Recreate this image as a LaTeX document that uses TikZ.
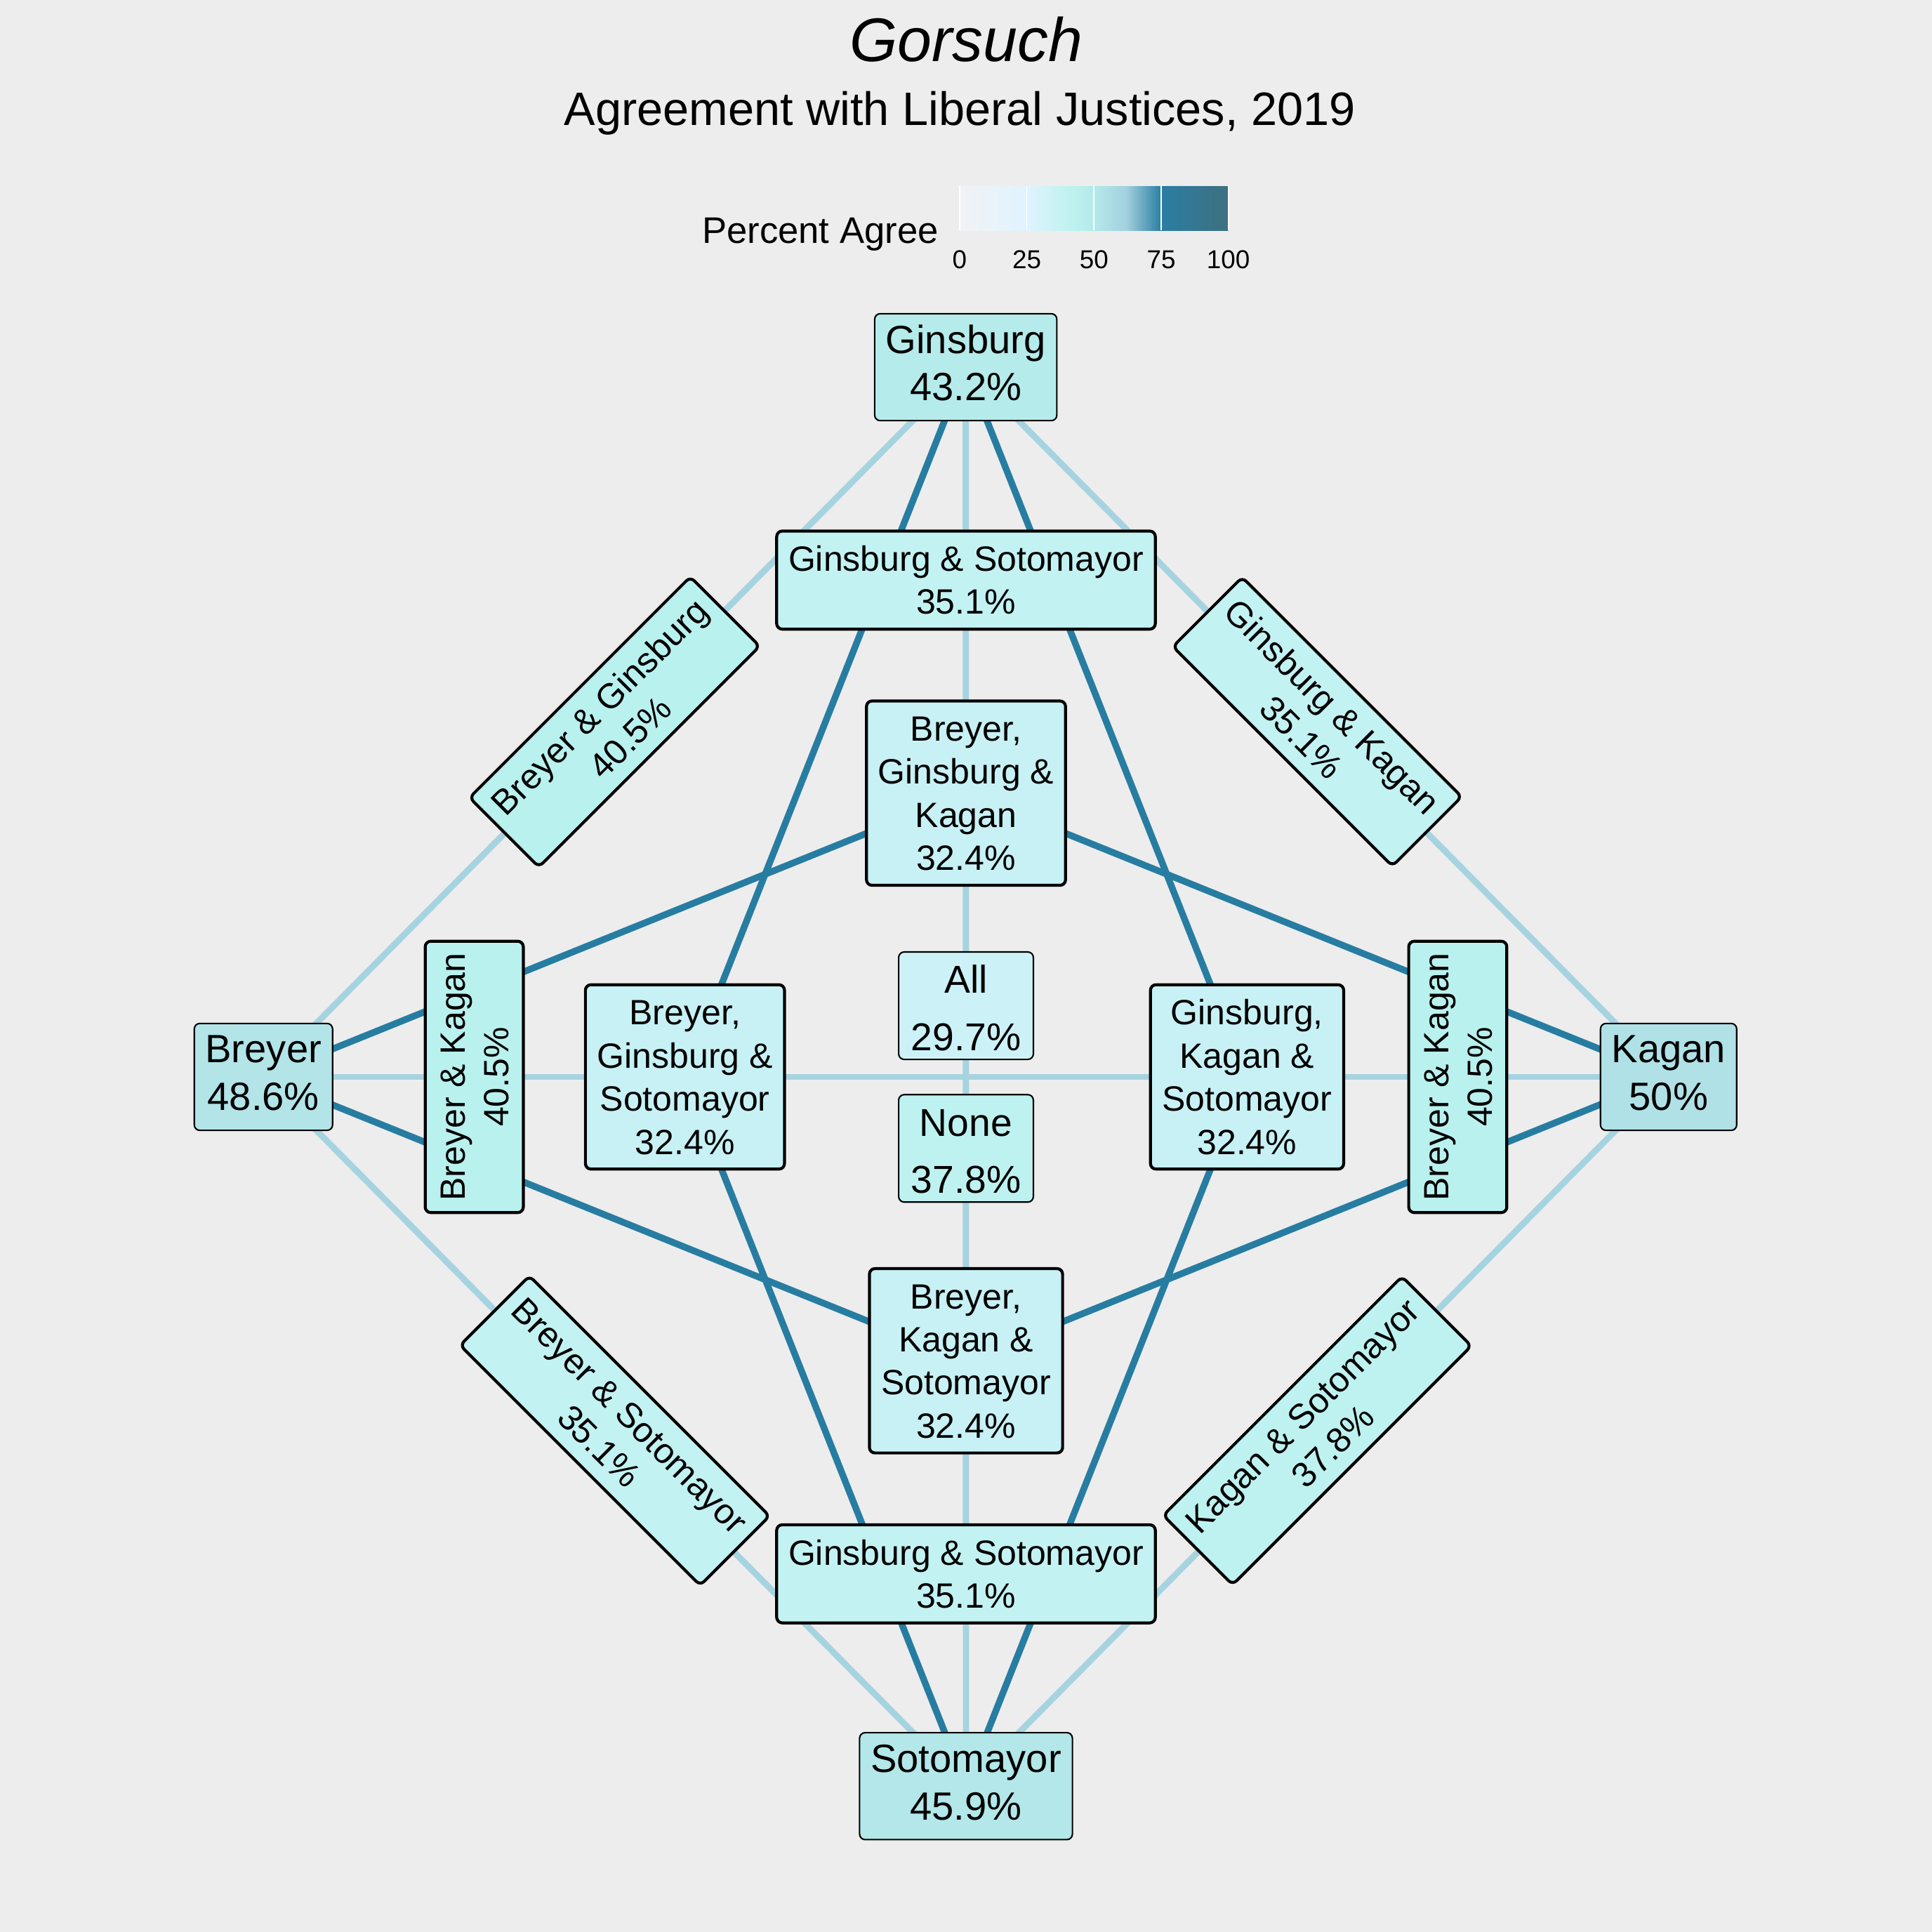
\documentclass[tikz,border=0pt]{standalone}
\usepackage{fontspec}
\setmainfont{Liberation Sans}
\usetikzlibrary{backgrounds}
\pgfdeclarelayer{edges}
\pgfsetlayers{background,edges,main}
\definecolor{bgc}{HTML}{EDEDED}
\definecolor{lite}{HTML}{A6D3E0}
\definecolor{dark}{HTML}{277DA1}
\definecolor{fG}{HTML}{B5EBEB}
\definecolor{fS}{HTML}{B3E7E9}
\definecolor{fB}{HTML}{B2E4E8}
\definecolor{fK}{HTML}{B0E1E7}
\definecolor{fa}{HTML}{B9F1EF}
\definecolor{fb}{HTML}{BEF2F1}
\definecolor{fc}{HTML}{C3F2F3}
\definecolor{fd}{HTML}{C7F1F5}
\definecolor{fe}{HTML}{CCF2F8}
\definecolor{ca}{HTML}{F1F2F4}
\definecolor{cb}{HTML}{E9F3FA}
\definecolor{cc}{HTML}{DFF3FE}
\definecolor{cd}{HTML}{BDF2EE}
\definecolor{ce}{HTML}{B4E9EA}
\definecolor{cf}{HTML}{A3D0DE}
\definecolor{cg}{HTML}{2A7EA3}
\definecolor{ch}{HTML}{3F7080}
\pgfdeclarehorizontalshading{agreebar}{100bp}{color(0bp)=(ca); color(25bp)=(ca); color(31bp)=(cb); color(37.5bp)=(cc); color(46bp)=(cd); color(50bp)=(ce); color(56bp)=(cf); color(62.5bp)=(cg); color(75bp)=(ch); color(100bp)=(ch)}
\newcommand\jtop{\rule{0pt}{32pt}}
\newcommand\jbot{\rule[-16.1pt]{0pt}{16.1pt}}
\newcommand\ctop{\rule{0pt}{32.5pt}}
\newcommand\cbot{\rule[-12.1pt]{0pt}{12.1pt}}
\newcommand\alltop{\rule{0pt}{33.5pt}}
\newcommand\allbot{\rule[-7.2pt]{0pt}{7.2pt}}
\tikzset{
  jbox/.style={draw=black, line width=1.2pt, rounded corners=4.5pt, inner xsep=9pt, inner ysep=0pt, align=center, font=\fontsize{32}{38.7}\selectfont},
  cbox/.style={draw=black, line width=2.4pt, rounded corners=4.5pt, inner xsep=9.5pt, inner ysep=0pt, align=center, font=\fontsize{28.5}{35}\selectfont},
  abox/.style={draw=black, line width=1.2pt, rounded corners=4.5pt, inner xsep=10pt, inner ysep=0pt, align=center, font=\fontsize{31.5}{46.5}\selectfont},
  liteline/.style={draw=lite, line width=5.1pt},
  darkline/.style={draw=dark, line width=5.4pt},
  plain/.style={inner sep=0pt, anchor=base}
}
\begin{document}
\begin{tikzpicture}[x=1pt,y=-1pt]
\useasboundingbox (0,0) rectangle (1568,1568);
\begin{pgfonlayer}{background}
\fill[bgc] (0,0) rectangle (1568,1568);
\end{pgfonlayer}

% titles
\node[plain, font=\fontsize{50}{60}\selectfont\itshape] (title) at (784,49.8) {Gorsuch};
\node[plain, font=\fontsize{38}{46}\selectfont] (subtitle) at (779,101.6) {Agreement with Liberal Justices, 2019};

% legend
\node[inner sep=0pt, anchor=base east, font=\fontsize{30}{36}\selectfont] (legtitle) at (761.8,197.7) {Percent Agree};
\shade[shading=agreebar] (778.8,151) rectangle (996.9,187);
\foreach \tx in {778.8,833.3,887.9,942.4,996.9}{
  \draw[white, line width=1pt] (\tx,151) -- (\tx,187);
}
\node[plain, font=\fontsize{21}{25}\selectfont] (t0) at (778.8,218) {0};
\node[plain, font=\fontsize{21}{25}\selectfont] (t25) at (833.3,218) {25};
\node[plain, font=\fontsize{21}{25}\selectfont] (t50) at (887.9,218) {50};
\node[plain, font=\fontsize{21}{25}\selectfont] (t75) at (942.4,218) {75};
\node[plain, font=\fontsize{21}{25}\selectfont] (t100) at (996.9,218) {100};

% nodes
\node[jbox, fill=fG] (G) at (783.8,298) {\jtop Ginsburg\\43.2\%\jbot};
\node[jbox, fill=fS] (S) at (784,1449.6) {\jtop Sotomayor\\45.9\%\jbot};
\node[jbox, fill=fB] (B) at (213.8,874) {\jtop Breyer\\48.6\%\jbot};
\node[jbox, fill=fK] (K) at (1354.2,874) {\jtop Kagan\\50\%\jbot};

\node[cbox, fill=fc] (GSt) at (784,470.8) {\ctop Ginsburg \& Sotomayor\\35.1\%\cbot};
\node[cbox, fill=fc] (GSb) at (784,1277.3) {\ctop Ginsburg \& Sotomayor\\35.1\%\cbot};
\node[cbox, fill=fa, rotate=45] (BG) at (498.8,585.9) {\ctop Breyer \& Ginsburg\\40.5\%\cbot};
\node[cbox, fill=fc, rotate=-45] (GK) at (1069.1,585.7) {\ctop Ginsburg \& Kagan\\35.1\%\cbot};
\node[cbox, fill=fc, rotate=-45] (BS) at (499,1161.1) {\ctop Breyer \& Sotomayor\\35.1\%\cbot};
\node[cbox, fill=fb, rotate=45] (KS) at (1069.1,1161.1) {\ctop Kagan \& Sotomayor\\37.8\%\cbot};
\node[cbox, fill=fa, rotate=90] (BKl) at (384.9,874) {\ctop Breyer \& Kagan\\40.5\%\cbot};
\node[cbox, fill=fa, rotate=90] (BKr) at (1183.1,874) {\ctop Breyer \& Kagan\\40.5\%\cbot};

\node[cbox, fill=fd] (BGK) at (784,643.7) {\ctop Breyer,\\Ginsburg \&\\Kagan\\32.4\%\cbot};
\node[cbox, fill=fd] (BKS) at (784,1104.4) {\ctop Breyer,\\Kagan \&\\Sotomayor\\32.4\%\cbot};
\node[cbox, fill=fd] (BGS) at (555.9,874) {\ctop Breyer,\\Ginsburg \&\\Sotomayor\\32.4\%\cbot};
\node[cbox, fill=fd] (GKS) at (1012.1,874) {\ctop Ginsburg,\\Kagan \&\\Sotomayor\\32.4\%\cbot};

\node[abox, fill=fe] (All) at (784,816.2) {\alltop All\\29.7\%\allbot};
\node[abox, fill=fb] (None) at (784,932) {\alltop None\\37.8\%\allbot};

% connectors
\begin{pgfonlayer}{edges}
\draw[liteline] (G.center) -- (B.center);
\draw[liteline] (G.center) -- (K.center);
\draw[liteline] (S.center) -- (B.center);
\draw[liteline] (S.center) -- (K.center);
\draw[liteline] (G.center) -- (S.center);
\draw[liteline] (B.center) -- (K.center);
\draw[darkline] (G.center) -- (BGS.center);
\draw[darkline] (G.center) -- (GKS.center);
\draw[darkline] (S.center) -- (BGS.center);
\draw[darkline] (S.center) -- (GKS.center);
\draw[darkline] (B.center) -- (BGK.center);
\draw[darkline] (B.center) -- (BKS.center);
\draw[darkline] (K.center) -- (BGK.center);
\draw[darkline] (K.center) -- (BKS.center);
\end{pgfonlayer}
\end{tikzpicture}
\end{document}
